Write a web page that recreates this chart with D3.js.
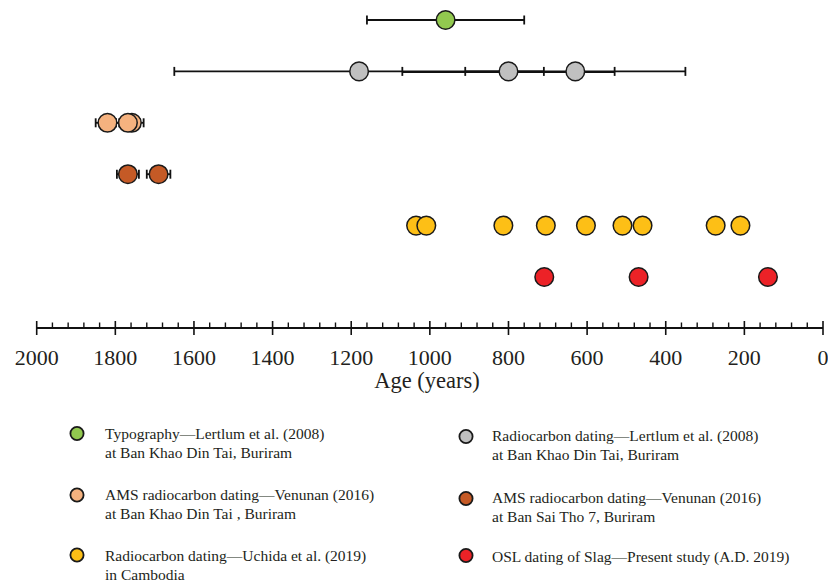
<!DOCTYPE html>
<html>
<head>
<meta charset="utf-8">
<script src="https://cdn.jsdelivr.net/npm/d3@7"></script>
<style>
  html, body { margin: 0; padding: 0; background: #fff; }
  svg { display: block; }
  text { font-family: "Liberation Serif", "Times New Roman", serif; fill: #231f20; }
</style>
</head>
<body>
<svg id="chart" width="828" height="582"></svg>
<script>
// ---- Data ----
const rowKeys = ["typo", "lertlum", "amsKhao", "amsSai", "uchida", "osl"];
const rowColors = ["#92c94f", "#c0c0c0", "#f5b27f", "#c55a26", "#fdbf16", "#ec2227"];

const typoAges = [960];
const typoErr = [200];
const lertlumAges = [1180, 800, 630];
const lertlumErr = [470, 270, 280];
const amsKhaoAges = [1758, 1768, 1820];
const amsKhaoErr = [30, 30, 30];
const amsSaiAges = [1768, 1690];
const amsSaiErr = [28, 30];
const uchidaAges = [1035, 1009, 813, 705, 603, 510, 459, 273, 210];
const oslAges = [709, 469, 140];

const majorTicks = [2000, 1800, 1600, 1400, 1200, 1000, 800, 600, 400, 200, 0];
const minorStep = 40;
const axisTitle = "Age (years)";

const legendLabels = [
  ["Typography\u2014Lertlum et al. (2008)", "at Ban Khao Din Tai, Buriram"],
  ["Radiocarbon dating\u2014Lertlum et al. (2008)", "at Ban Khao Din Tai, Buriram"],
  ["AMS radiocarbon dating\u2014Venunan (2016)", "at Ban Khao Din Tai , Buriram"],
  ["AMS radiocarbon dating\u2014Venunan (2016)", "at Ban Sai Tho 7, Buriram"],
  ["Radiocarbon dating\u2014Uchida et al. (2019)", "in Cambodia"],
  ["OSL dating of Slag\u2014Present study (A.D. 2019)", ""]
];

// ---- Build series ----
const series = [
  { key: "typo", ages: typoAges, err: typoErr },
  { key: "lertlum", ages: lertlumAges, err: lertlumErr },
  { key: "amsKhao", ages: amsKhaoAges, err: amsKhaoErr },
  { key: "amsSai", ages: amsSaiAges, err: amsSaiErr },
  { key: "uchida", ages: uchidaAges, err: null },
  { key: "osl", ages: oslAges, err: null }
];

const svg = d3.select("#chart");
const x = d3.scaleLinear().domain([2000, 0]).range([36.7, 823]);
const y = d3.scalePoint().domain(rowKeys).range([20, 277]);
const color = d3.scaleOrdinal().domain(rowKeys).range(rowColors);

const axisY = 328;

// ---- Axis ----
const axisG = svg.append("g");
axisG.append("line")
  .attr("x1", x(2000)).attr("x2", x(0))
  .attr("y1", axisY).attr("y2", axisY)
  .attr("stroke", "#111").attr("stroke-width", 1.8);

const minorTicks = d3.range(0, 2001, minorStep).filter(v => !majorTicks.includes(v));
axisG.selectAll(".minor").data(minorTicks).join("line")
  .attr("x1", d => x(d)).attr("x2", d => x(d))
  .attr("y1", axisY - 5.5).attr("y2", axisY)
  .attr("stroke", "#111").attr("stroke-width", 1.4);
axisG.selectAll(".major").data(majorTicks).join("line")
  .attr("x1", d => x(d)).attr("x2", d => x(d))
  .attr("y1", axisY - 7).attr("y2", axisY + 7)
  .attr("stroke", "#111").attr("stroke-width", 1.6);
axisG.selectAll(".tl").data(majorTicks).join("text")
  .attr("x", d => x(d)).attr("y", 365)
  .attr("text-anchor", "middle")
  .attr("font-size", 22)
  .text(d => d);
axisG.append("text")
  .attr("x", 427).attr("y", 388)
  .attr("text-anchor", "middle")
  .attr("font-size", 22.5)
  .text(axisTitle);

// ---- Error bars ----
const capH = 4.5;
series.forEach((s, si) => {
  if (!s.err) return;
  const g = svg.append("g");
  s.ages.forEach((a, i) => {
    const e = s.err[i];
    const yy = y(s.key) + (s.key === "lertlum" && i === 1 ? 0.8 : 0);
    g.append("line")
      .attr("x1", x(a + e)).attr("x2", x(a - e))
      .attr("y1", yy).attr("y2", yy)
      .attr("stroke", "#111").attr("stroke-width", 1.8);
    [a + e, a - e].forEach(v => {
      g.append("line")
        .attr("x1", x(v)).attr("x2", x(v))
        .attr("y1", y(s.key) - capH).attr("y2", y(s.key) + capH)
        .attr("stroke", "#111").attr("stroke-width", 1.8);
    });
  });
});

// ---- Points ----
series.forEach(s => {
  svg.append("g").selectAll("circle").data(s.ages).join("circle")
    .attr("cx", d => x(d))
    .attr("cy", y(s.key))
    .attr("r", 9.3)
    .attr("fill", color(s.key))
    .attr("stroke", "#1a1a1a")
    .attr("stroke-width", 1.5);
});

// ---- Legend ----
const legendCol = [
  { cx: 77, tx: 105 },
  { cx: 466, tx: 492 }
];
const legendRowY = [
  [{ cy: 433.5, b1: 439, b2: 458 }, { cy: 436.5, b1: 441, b2: 459.5 }],
  [{ cy: 495, b1: 500, b2: 518.5 }, { cy: 498.5, b1: 503, b2: 521.5 }],
  [{ cy: 555, b1: 561, b2: 579.5 }, { cy: 555.5, b1: 562, b2: 580 }]
];
const legG = svg.append("g");
rowKeys.forEach((k, i) => {
  const r = Math.floor(i / 2), c = i % 2;
  const pos = legendRowY[r][c];
  legG.append("circle")
    .attr("cx", legendCol[c].cx).attr("cy", pos.cy).attr("r", 6.6)
    .attr("fill", color(k)).attr("stroke", "#1a1a1a").attr("stroke-width", 1.8);
  legG.append("text")
    .attr("x", legendCol[c].tx).attr("y", pos.b1)
    .attr("font-size", 15.5)
    .text(legendLabels[i][0]);
  if (legendLabels[i][1]) {
    legG.append("text")
      .attr("x", legendCol[c].tx).attr("y", pos.b2)
      .attr("font-size", 15.5)
      .text(legendLabels[i][1]);
  }
});
</script>
</body>
</html>
